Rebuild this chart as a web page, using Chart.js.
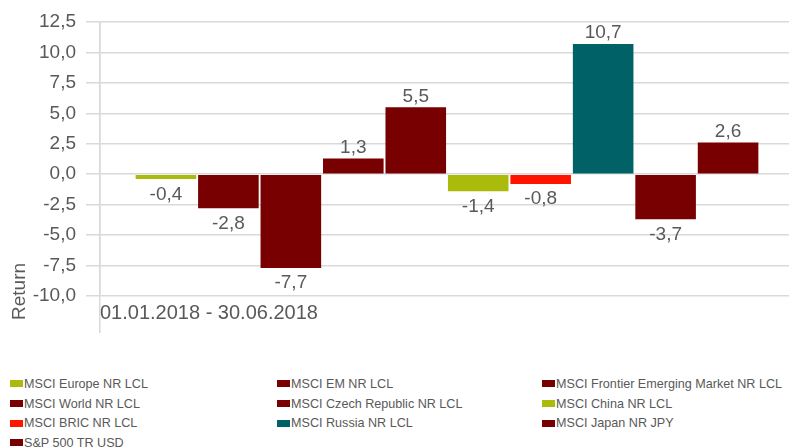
<!DOCTYPE html>
<html>
<head>
<meta charset="utf-8">
<script src="https://cdn.jsdelivr.net/npm/chart.js@4/dist/chart.umd.min.js"></script>
<style>
  html, body { margin: 0; padding: 0; background: #fff; }
  body { width: 789px; height: 448px; overflow: hidden; position: relative; font-family: "Liberation Sans", Arial, sans-serif; }
  #wrap { position: absolute; left: 0; top: 0; width: 794px; height: 350px; }
  #legend { position: absolute; left: 10px; top: 374px; display: grid; grid-template-columns: 267px 265px auto; }
  .item { display: flex; align-items: center; height: 19.7px; font-size: 12.6px; color: #595959; white-space: nowrap; }
  .sw { width: 13px; height: 7px; margin-right: 1px; }
</style>
</head>
<body>
<div id="wrap"><canvas id="chart"></canvas></div>
<div id="legend"></div>
<script>
// datos (rentabilidad 01.01.2018 - 30.06.2018)
const category = ['01.01.2018 - 30.06.2018'];
const seriesNames = [
    'MSCI Europe NR LCL', 'MSCI EM NR LCL', 'MSCI Frontier Emerging Market NR LCL',
    'MSCI World NR LCL', 'MSCI Czech Republic NR LCL', 'MSCI China NR LCL',
    'MSCI BRIC NR LCL', 'MSCI Russia NR LCL', 'MSCI Japan NR JPY', 'S&P 500 TR USD'
];
const seriesValues = [-0.4, -2.8, -7.7, 1.3, 5.5, -1.4, -0.8, 10.7, -3.7, 2.6];
const seriesColors = [
    '#aabb0b', '#780000', '#780000', '#780000', '#780000',
    '#aabb0b', '#ff1400', '#006266', '#780000', '#780000'
];
const yTicks = { min: -10, max: 12.5, step: 2.5 };

const txtColor = '#595959';
const gridColor = '#d9d9d9';
const fmt = v => v.toFixed(1).replace('.', ',');

// etiquetas de valor encima / debajo de cada barra
const valueLabels = {
    id: 'valueLabels',
    afterDatasetsDraw(chart) {
        const ctx = chart.ctx;
        ctx.save();
        ctx.font = '19px "Liberation Sans", Arial, sans-serif';
        ctx.fillStyle = txtColor;
        ctx.textAlign = 'center';
        ctx.textBaseline = 'alphabetic';
        chart.data.datasets.forEach((ds, i) => {
            const bar = chart.getDatasetMeta(i).data[0];
            const v = ds.data[0];
            if (v >= 0) {
                ctx.fillText(fmt(v), bar.x, bar.y - 5.5);
            } else {
                ctx.fillText(fmt(v), bar.x, bar.y + 20.5);
            }
        });
        ctx.restore();
    }
};

document.addEventListener('DOMContentLoaded', () => {
    const ctx = document.getElementById('chart').getContext('2d');
    new Chart(ctx, {
        type: 'bar',
        data: {
            labels: category,
            datasets: seriesNames.map((name, i) => ({
                label: name,
                data: [seriesValues[i]],
                backgroundColor: seriesColors[i],
                borderWidth: 0,
                categoryPercentage: 0.9,
                barPercentage: 0.97
            }))
        },
        options: {
            responsive: true,
            maintainAspectRatio: false,
            animation: false,
            layout: { padding: { top: 22, left: 0, right: 0, bottom: 0 } },
            plugins: {
                legend: { display: false },
                tooltip: { enabled: false }
            },
            scales: {
                x: {
                    afterFit: s => { s.height = 54; },
                    border: { display: false },
                    grid: {
                        color: c => c.index === 0 ? gridColor : 'rgba(0,0,0,0)',
                        lineWidth: 1.5,
                        tickLength: 37
                    },
                    ticks: {
                        align: 'start',
                        labelOffset: -347,
                        padding: -31.5,
                        color: txtColor,
                        font: { family: '"Liberation Sans", Arial, sans-serif', size: 20 }
                    }
                },
                y: {
                    min: yTicks.min,
                    max: yTicks.max,
                    afterFit: s => { s.width = 100; },
                    border: { color: gridColor, width: 1.5 },
                    grid: { color: gridColor, lineWidth: 1.5, tickLength: 14 },
                    ticks: {
                        stepSize: yTicks.step,
                        padding: 10,
                        color: txtColor,
                        font: { family: '"Liberation Sans", Arial, sans-serif', size: 19 },
                        callback: v => fmt(v)
                    },
                    title: { display: false }
                }
            }
        },
        plugins: [valueLabels, {
            // titulo del eje y, abajo a la izquierda
            id: 'yTitle',
            afterDraw(chart) {
                const c = chart.ctx;
                c.save();
                c.translate(20, 320);
                c.rotate(-Math.PI / 2);
                c.font = '19px "Liberation Sans", Arial, sans-serif';
                c.fillStyle = txtColor;
                c.textAlign = 'left';
                c.textBaseline = 'middle';
                c.fillText('Return', 0, 0);
                c.restore();
            }
        }]
    });

    // leyenda en tres columnas
    const legend = document.getElementById('legend');
    seriesNames.forEach((name, i) => {
        const item = document.createElement('div');
        item.className = 'item';
        const sw = document.createElement('span');
        sw.className = 'sw';
        sw.style.background = seriesColors[i];
        const t = document.createElement('span');
        t.textContent = name;
        item.appendChild(sw);
        item.appendChild(t);
        legend.appendChild(item);
    });
});
</script>
</body>
</html>
